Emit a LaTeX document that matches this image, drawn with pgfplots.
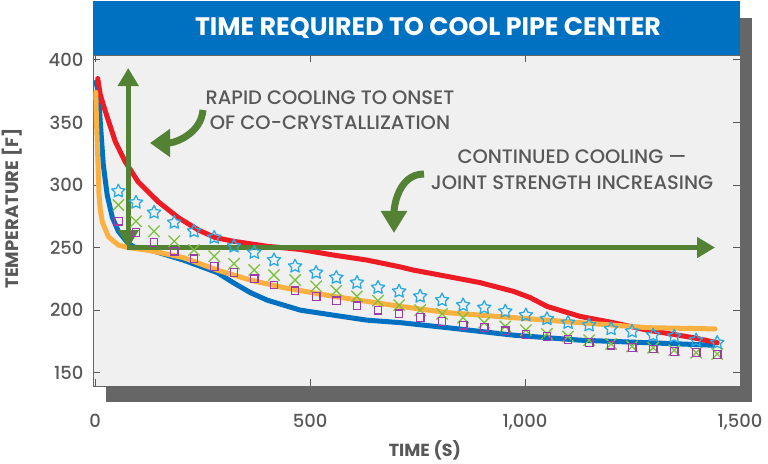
\documentclass[border=0pt]{standalone}
\usepackage{fontspec}
\setmainfont{Poppins}[UprightFont={* Medium}, BoldFont={* Bold}]
\usepackage{pgfplots}
\pgfplotsset{compat=1.18}
\usetikzlibrary{arrows.meta}
\definecolor{titleblue}{RGB}{0,112,192}
\definecolor{shadowgray}{RGB}{102,102,102}
\definecolor{plotbg}{RGB}{240,240,240}
\definecolor{txtgray}{RGB}{88,88,88}
\definecolor{arrgreen}{RGB}{84,130,53}
\definecolor{cred}{RGB}{237,28,36}
\definecolor{cblue}{RGB}{0,112,192}
\definecolor{corange}{RGB}{252,176,64}
\definecolor{cstar}{RGB}{41,171,226}
\definecolor{cx}{RGB}{124,192,60}
\definecolor{csq}{RGB}{155,60,170}

\pgfdeclareplotmark{ostar}{%
  \pgfpathmoveto{\pgfpointpolar{90}{\pgfplotmarksize}}%
  \pgfpathlineto{\pgfpointpolar{126}{0.5\pgfplotmarksize}}%
  \pgfpathlineto{\pgfpointpolar{162}{\pgfplotmarksize}}%
  \pgfpathlineto{\pgfpointpolar{198}{0.5\pgfplotmarksize}}%
  \pgfpathlineto{\pgfpointpolar{234}{\pgfplotmarksize}}%
  \pgfpathlineto{\pgfpointpolar{270}{0.5\pgfplotmarksize}}%
  \pgfpathlineto{\pgfpointpolar{306}{\pgfplotmarksize}}%
  \pgfpathlineto{\pgfpointpolar{342}{0.5\pgfplotmarksize}}%
  \pgfpathlineto{\pgfpointpolar{18}{\pgfplotmarksize}}%
  \pgfpathlineto{\pgfpointpolar{54}{0.5\pgfplotmarksize}}%
  \pgfpathclose
  \pgfusepathqstroke}

\pgfplotstableread{
t y
6 385
12 372
24 358.5
47 334.5
70 318.5
100 302.5
147 286.5
193 274
240 264
279 258
322 255
400 251
477 248.5
554 244
632 240
710 234.5
740 232
818 227
895 222
973 215
1012 210
1051 203
1128 195
1205 190
1284 184
1330 181.5
1391 178
1447 174
}\redtab

\pgfplotstableread{
t y
1.6 382
5 378
8 370
12 350
19 316
28 292
40 274
54 263
75 254
90 250.5
128 248
205 240
284 230
321 222
361 214
400 208
477 200
554 196
632 192
710 190
819 186
973 180
1128 176
1284 174
1437 172
}\bluetab

\pgfplotstableread{
t y
1.6 374
3 352
6 324
9 292
12 280
17 270
31 258.6
54 252
77 250
128 247.5
205 242
284 232
361 224
438 218
554 211
710 203
819 198
973 194
1128 190
1284 186
1442 185
}\orangetab

\pgfplotstableread{
t star cross square
54 295 284 271
95 286 271 262
137 278 263 254
184 270 255 247
230 263 248 241
277 258 243 235
323 251 237 230
370 246 232 225
416 240 228 220
465 235 224 215.5
514 230 219 211
561 226 215.5 207.5
609 222 211 203.5
658 218 207.5 200
707 215 204 197
756 211 200 194
807 208 197 191
856 204 194 188
905 202 190 186
954 199 187 183.5
1002 196 184 180.5
1051 193 181 179
1100 190 179 176.5
1149 188 176 174
1200 185 173 172
1249 183 171 170
1298 180 170 169
1347 179 168 167
1398 176 166 166
1447 174 165 164.5
}\marktab

\begin{document}
\begin{tikzpicture}[x=1pt,y=1pt]
\useasboundingbox (0,0) rectangle (768,463);
% shadow
\fill[shadowgray] (106,61) rectangle (752,445);
\begin{axis}[
  at={(93pt,77pt)}, anchor=south west,
  scale only axis, width=647pt, height=331pt,
  xmin=-5, xmax=1500, ymin=139.4, ymax=403.8,
  axis background/.style={fill=plotbg},
  axis line style={draw=black!60, line width=0.8pt},
  tick style={draw=black!65, line width=0.8pt},
  major tick length=7pt,
  tick align=inside,
  xtick={0,500,1000,1500},
  ytick={150,200,250,300,350,400},
  /pgf/number format/assume math mode=true,
  /pgf/number format/1000 sep={,},
  ticklabel style={font=\fontsize{18}{18}\selectfont, text=txtgray},
  xticklabel style={yshift=-25pt},
  yticklabel style={xshift=-6pt},
  xlabel={TIME (S)},
  ylabel={TEMPERATURE [F]},
  xlabel style={at={(axis description cs:0.513,0)}, anchor=center, yshift=-64pt, font=\bfseries\fontsize{17.5}{17.5}\selectfont, text=txtgray},
  ylabel style={at={(axis description cs:0,0.536)}, anchor=center, yshift=81pt, font=\bfseries\fontsize{18}{18}\selectfont, text=txtgray},
  clip=false,
]
\addplot[cblue, line width=5pt, line join=round, line cap=round] table[x=t,y=y] {\bluetab};
\addplot[cred, line width=5pt, line join=round, line cap=round] table[x=t,y=y] {\redtab};
\addplot[corange, line width=5pt, line join=round, line cap=round] table[x=t,y=y] {\orangetab};
\addplot[only marks, mark=ostar, mark size=7pt, mark options={draw=cstar, line width=1.3pt, line join=round}] table[x=t,y=star] {\marktab};
\addplot[only marks, mark=x, mark size=8pt, mark options={draw=cx, line width=1.3pt}] table[x=t,y=cross] {\marktab};
\addplot[only marks, mark=square, mark size=3.8pt, mark options={draw=csq, line width=1.2pt}] table[x=t,y=square] {\marktab};
% green arrows
\draw[arrgreen, line width=5pt, {Triangle[width=20pt,length=18pt]}-{Triangle[width=20pt,length=18pt]}] (axis cs:77,393.4) -- (axis cs:77,249.6);
\draw[arrgreen, line width=5pt, -{Triangle[width=20pt,length=18pt]}] (axis cs:75,250) -- (axis cs:1442,250);
\end{axis}
% title bar
\fill[titleblue] (93,408) rectangle (740,462);
\node[text=white, font=\bfseries\fontsize{25.3}{25.3}\selectfont] at (428,435) {TIME REQUIRED TO COOL PIPE CENTER};
% annotations
\node[text=txtgray, align=center, font=\fontsize{19.5}{25}\selectfont] at (330,352.5) {RAPID COOLING TO ONSET\\OF CO-CRYSTALLIZATION};
\node[text=txtgray, align=center, font=\fontsize{19.5}{26}\selectfont] at (572,293) {CONTINUED COOLING ---\\JOINT STRENGTH INCREASING};
\draw[arrgreen, line width=7pt, -{Triangle[width=27pt,length=20pt]}] (203,353) to[out=-95,in=0] (150,320);
\draw[arrgreen, line width=7pt, -{Triangle[width=25pt,length=22pt]}] (424,289) to[out=180,in=90] (394,230);
\end{tikzpicture}
\end{document}
